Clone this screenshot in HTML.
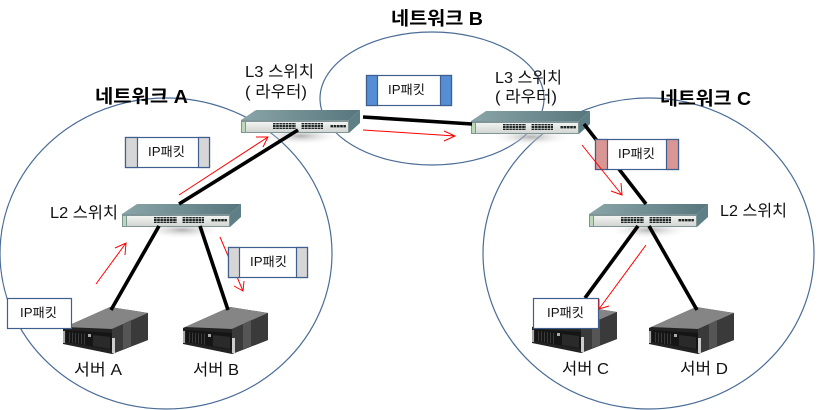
<!DOCTYPE html>
<html lang="ko"><head><meta charset="utf-8"><title>네트워크</title>
<style>html,body{margin:0;padding:0;background:#fff;width:823px;height:410px;overflow:hidden}svg{display:block}
text{font-family:"Liberation Sans","Noto Sans CJK KR","NanumGothic",sans-serif;fill:#111}
.l{font-size:16px}.h{font-size:18.5px;font-weight:bold;fill:#000}.p{font-size:12.5px}</style></head><body>
<svg width="823" height="410" viewBox="0 0 823 410" xmlns="http://www.w3.org/2000/svg">
<defs>
<radialGradient id="sh"><stop offset="0" stop-color="#999" stop-opacity=".75"/><stop offset="1" stop-color="#fff" stop-opacity="0"/></radialGradient>
<linearGradient id="top" x1="0" x2="1" y1="0" y2="0"><stop offset="0" stop-color="#8aa5a8"/><stop offset="1" stop-color="#56767d"/></linearGradient>
<linearGradient id="fr" x1="0" x2="0" y1="0" y2="1"><stop offset="0" stop-color="#f2f3f1"/><stop offset="1" stop-color="#d2d6d2"/></linearGradient>
<pattern id="pt" width="3.2" height="3" patternUnits="userSpaceOnUse"><rect width="2.6" height="2.4" fill="#1f2726"/></pattern>
<pattern id="fan" width="3" height="4" patternUnits="userSpaceOnUse"><rect width="1" height="4" fill="#3a3a3a"/></pattern>
<g id="sw">
<ellipse cx="60" cy="26" rx="42" ry="9" fill="url(#sh)"/>
<polygon points="0,10 15,0 119,0 108,10" fill="url(#top)"/>
<polygon points="108,10 119,0 119,13 108,23" fill="#5f7f86"/>
<rect x="0" y="10" width="108" height="13" fill="#7f9597"/>
<rect x="5" y="12" width="102" height="10" fill="url(#fr)"/>
<rect x="1" y="12" width="3" height="10" fill="#bcd8b8"/>
<rect x="32" y="13" width="23" height="6" fill="url(#pt)"/>
<rect x="60" y="13" width="22" height="6" fill="url(#pt)"/>
<rect x="89" y="15" width="16" height="3" fill="url(#pt)"/>
</g>
<g id="sv">
<polygon points="0,21 47,0 85,6 85,33 49,47 0,37" fill="#222"/>
<polygon points="2,20 47,0 85,6 49,22" fill="#858585"/>
<polygon points="49,22 85,6 85,33 49,47" fill="#3a3a3a"/>
<polygon points="60,17 68,13 68,39 60,42" fill="#555"/>
<polygon points="3,23 49,26 49,43 3,35" fill="#151515"/>
<polygon points="5,25 24,27 24,38 5,35" fill="url(#fan)"/>
<polygon points="30,28 47,30 47,42 30,39" fill="#2a2a2a"/>
<rect x="25" y="27" width="3" height="3" fill="#aaa"/>
<rect x="0" y="24" width="2" height="12" fill="#aaa"/>
<rect x="49" y="31" width="3" height="15" fill="#ccc"/>
</g>
</defs>
<rect width="823" height="410" fill="#fff"/>
<g fill="none" stroke="#4a6c97" stroke-width="1.2">
<ellipse cx="166" cy="253.5" rx="166" ry="155.5"/>
<ellipse cx="432" cy="98.5" rx="112" ry="66.5"/>
<ellipse cx="648.5" cy="253.5" rx="165.5" ry="155.5"/>
</g>
<use href="#sw" x="241" y="110"/><use href="#sw" x="471" y="111"/><use href="#sw" x="122" y="204"/><use href="#sw" x="589" y="204"/>
<use href="#sv" x="63" y="307"/><use href="#sv" x="183" y="307"/><use href="#sv" x="532" y="306"/><use href="#sv" x="649" y="307"/>
<g stroke="#000" stroke-width="3.6" fill="none">
<line x1="298" y1="130" x2="179" y2="204"/>
<line x1="363" y1="117" x2="472" y2="124"/>
<line x1="584" y1="124" x2="646" y2="204"/>
<line x1="159" y1="226" x2="111" y2="310"/>
<line x1="200" y1="226" x2="228" y2="310"/>
<line x1="638" y1="226" x2="585" y2="298"/>
<line x1="649" y1="226" x2="697" y2="310"/>
</g>
<polyline points="220,237 243,291" stroke="#f00" fill="none" stroke-width="1"/>
<polyline points="234,286 243,291 244,281" stroke="#f00" fill="none" stroke-width="1"/>
<g stroke="#3f5f8f" stroke-width="1.2">
<rect x="125.5" y="137.5" width="84" height="30" fill="#fff"/>
<rect x="125.5" y="137.5" width="12" height="30" fill="#d6d6d6"/><rect x="198.5" y="137.5" width="11" height="30" fill="#d6d6d6"/>
<rect x="228.5" y="247.5" width="79" height="30" fill="#fff"/>
<rect x="228.5" y="247.5" width="11" height="30" fill="#d6d6d6"/><rect x="296.5" y="247.5" width="11" height="30" fill="#d6d6d6"/>
<rect x="366.5" y="75.5" width="85" height="30" fill="#fff"/>
<rect x="366.5" y="75.5" width="11" height="30" fill="#558ed5"/><rect x="440.5" y="75.5" width="11" height="30" fill="#558ed5"/>
<rect x="595.5" y="139.5" width="83" height="30" fill="#fff"/>
<rect x="595.5" y="139.5" width="12" height="30" fill="#d99694"/><rect x="666.5" y="139.5" width="12" height="30" fill="#d99694"/>
<rect x="7.5" y="298.5" width="64" height="30" fill="#fff"/>
<rect x="533.5" y="298.5" width="65" height="30" fill="#fff"/>
</g>
<g stroke="#f00" fill="none" stroke-width="1">
<path d="M179 195L268 137M256 137L268 137L263 147"/>
<path d="M96 284L126 243M115 248L126 243L125 255"/>
<path d="M363 130L455 136M444 131L455 136L444 141"/>
<path d="M582 145L622 195M611 191L622 195L621 183"/>
<path d="M646 245L599 309M609 306L599 309L599 299"/>
</g>
<text class="h" x="95" y="103" textLength="93" lengthAdjust="spacingAndGlyphs">네트워크 A</text>
<text class="h" x="391" y="25" textLength="92" lengthAdjust="spacingAndGlyphs">네트워크 B</text>
<text class="h" x="660" y="105" textLength="91" lengthAdjust="spacingAndGlyphs">네트워크 C</text>
<text class="l" x="245" y="77" textLength="69" lengthAdjust="spacingAndGlyphs">L3 스위치</text>
<text class="l" x="245" y="97" textLength="62" lengthAdjust="spacingAndGlyphs">( 라우터)</text>
<text class="l" x="495" y="83" textLength="67" lengthAdjust="spacingAndGlyphs">L3 스위치</text>
<text class="l" x="495" y="102" textLength="62" lengthAdjust="spacingAndGlyphs">( 라우터)</text>
<text class="l" x="50" y="218" textLength="68" lengthAdjust="spacingAndGlyphs">L2 스위치</text>
<text class="l" x="720" y="216" textLength="67" lengthAdjust="spacingAndGlyphs">L2 스위치</text>
<text class="l" x="74" y="375" textLength="48" lengthAdjust="spacingAndGlyphs">서버 A</text>
<text class="l" x="193" y="375" textLength="46" lengthAdjust="spacingAndGlyphs">서버 B</text>
<text class="l" x="562" y="374" textLength="47" lengthAdjust="spacingAndGlyphs">서버 C</text>
<text class="l" x="680" y="374" textLength="48" lengthAdjust="spacingAndGlyphs">서버 D</text>
<text class="p" x="148" y="156" textLength="37" lengthAdjust="spacingAndGlyphs">IP패킷</text>
<text class="p" x="250" y="266" textLength="37" lengthAdjust="spacingAndGlyphs">IP패킷</text>
<text class="p" x="388" y="94" textLength="37" lengthAdjust="spacingAndGlyphs">IP패킷</text>
<text class="p" x="618" y="158" textLength="37" lengthAdjust="spacingAndGlyphs">IP패킷</text>
<text class="p" x="20" y="317" textLength="37" lengthAdjust="spacingAndGlyphs">IP패킷</text>
<text class="p" x="547" y="317" textLength="37" lengthAdjust="spacingAndGlyphs">IP패킷</text>
</svg>
</body></html>
